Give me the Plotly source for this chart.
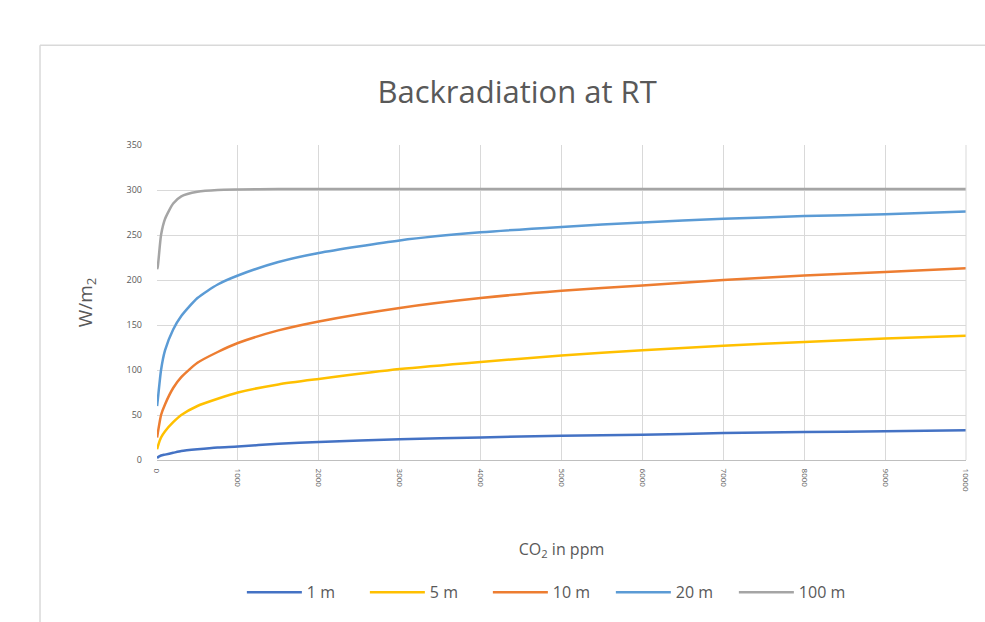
import plotly.graph_objects as go

co2_ppm = [1, 10, 50, 100, 200, 300, 500, 750, 1000, 1500, 2000, 3000, 4000, 5000,
           6000, 7000, 8000, 9000, 10000]

bk_1m = [2, 3, 5, 6, 8, 10, 12, 14, 15, 18, 20, 23, 25, 27, 28, 30, 31, 32, 33]
bk_5m = [12, 15, 25, 32, 42, 50, 60, 68, 75, 84, 90, 101, 109, 116, 122, 127, 131, 135, 138]
bk_10m = [25, 30, 50, 62, 80, 92, 108, 120, 130, 144, 154, 169, 180, 188, 194, 200, 205, 209, 213]
bk_20m = [60, 67, 100, 122, 145, 160, 180, 195, 205, 220, 230, 244, 253, 259, 264, 268, 271, 273, 276]
bk_100m = [212, 215, 250, 268, 285, 293, 298, 300, 300.5, 301, 301, 301, 301, 301, 301, 301, 301, 301, 301]

series = [
    ("1 m", bk_1m, "#4472C4"),
    ("5 m", bk_5m, "#FFC000"),
    ("10 m", bk_10m, "#ED7D31"),
    ("20 m", bk_20m, "#5B9BD5"),
    ("100 m", bk_100m, "#A5A5A5"),
]

x_ticks = list(range(0, 10001, 1000))
y_ticks = list(range(0, 351, 50))

fig = go.Figure()
for name, ys, col in series:
    fig.add_trace(go.Scatter(x=co2_ppm, y=ys, name=name, mode="lines",
                             line=dict(color=col, width=2.5, shape="spline", smoothing=0.6)))

fig.update_layout(
    width=985, height=622,
    margin=dict(l=157, r=19, t=145, b=162),
    paper_bgcolor="white", plot_bgcolor="white",
    font=dict(family="Open Sans", color="#595959"),
    title=dict(text="Backradiation at RT", x=0.525, xanchor="center", y=0.852, yanchor="middle",
               font=dict(family="Open Sans", size=31, color="#595959")),
    showlegend=True,
    legend=dict(orientation="h", x=0.485, xanchor="center", y=-0.42, yanchor="middle",
                font=dict(size=16, color="#595959"), itemwidth=55, entrywidth=53,
                tracegroupgap=0),
    xaxis=dict(range=[0, 10000], tickvals=x_ticks, ticktext=[str(v) for v in x_ticks],
               tickangle=90, tickfont=dict(size=8, color="#595959"), ticklabelstandoff=6,
               showgrid=True, gridcolor="#D9D9D9", gridwidth=1,
               zeroline=False, showline=True, linecolor="#BFBFBF",
               title=dict(text="CO<sub>2</sub> in ppm", font=dict(size=16, color="#595959"), standoff=52)),
    yaxis=dict(range=[0, 350], tickvals=y_ticks, tickfont=dict(size=9, color="#595959"),
               ticklabelstandoff=14,
               showgrid=True, gridcolor="#D9D9D9", gridwidth=1, zeroline=False,
               title=dict(text="W/m<sub>2</sub>", font=dict(size=19, color="#595959"), standoff=28)),
)

fig.add_shape(type="line", xref="paper", yref="paper", x0=1.0, x1=1.0, y0=0, y1=1,
              line=dict(color="#D9D9D9", width=1))
fig.add_shape(type="line", xref="paper", yref="paper", x0=-0.1446, x1=1.03, y0=1.317, y1=1.317,
              line=dict(color="#D9D9D9", width=1.5))
fig.add_shape(type="line", xref="paper", yref="paper", x0=-0.1446, x1=-0.1446, y0=1.317, y1=-0.52,
              line=dict(color="#D9D9D9", width=1.5))

fig.write_html("out.html")
